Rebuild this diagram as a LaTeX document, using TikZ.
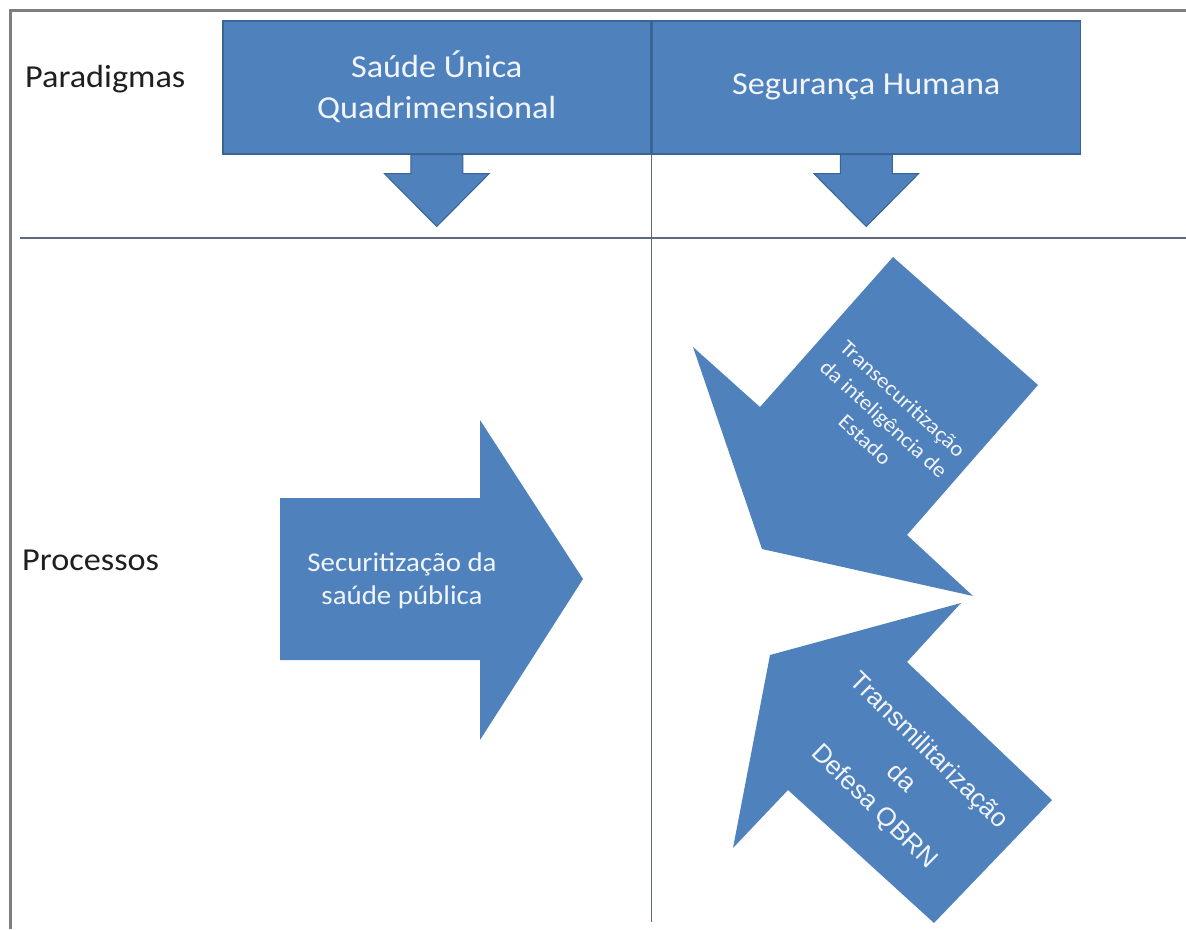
\documentclass[tikz,border=0pt]{standalone}
\usepackage{fontspec}
\setmainfont{Carlito}[FakeStretch=1.07]
\newfontfamily\arialfont{Liberation Sans}
\usetikzlibrary{
    positioning
}
\definecolor{boxblue}{HTML}{4F81BD}
\definecolor{boxedge}{HTML}{3A6494}
\definecolor{rulegray}{HTML}{5F6B7C}
\definecolor{framegray}{HTML}{7E7E7E}
\def\boxw{428pt}
\def\boxh{133pt}
\tikzset{
    base/.style={
        inner sep=0pt,
        align=center,
    },
    topbox/.style = {
        base,
        draw=boxedge,
        fill=boxblue,
        line width=1.5pt,
        minimum width  = \boxw,
        minimum height = \boxh,
        text=white!92!boxblue,
        font=\fontsize{32}{41}\selectfont,
    },
    rowlabel/.style = {
        base,
        anchor=base west,
        text=black!88,
        font=\fontsize{32}{38}\selectfont,
    },
    arrowtext/.style = {
        base,
        text=white!92!boxblue,
    },
    blockarrow/.style = {
        fill=boxblue,
    },
    downarrow/.style = {
        fill=boxblue,
        draw=boxedge,
        line width=1pt,
    },
    divider/.style = {
        draw=rulegray,
        line width=1.6pt,
    },
    frame/.style = {
        draw=framegray,
        line width=3pt,
    },
}

\begin{document}
\begin{tikzpicture}[x=1pt, y=-1pt]
        \useasboundingbox (0,0) rectangle (1186,929);
        \draw [frame] (10,929) -- (10,10) -- (1186,10);

        \node (box1) [topbox, anchor=north west] at (222,20) {Saúde Única\\Quadrimensional};
        \node (box2) [topbox, right=0pt of box1] {Segurança Humana};

        \draw [divider] (20,238) -- (1186,238);
        \draw [divider] (box1.south east) -- (box1.south east |- 0,922);

        \foreach \b in {box1,box2}{
            \filldraw [downarrow] (\b.south) ++(-26,0) -- ++(0,19) -- ++(-26.5,0)
                -- ++(52.5,53) -- ++(52.5,-53) -- ++(-26.5,0) -- ++(0,-19) -- cycle;
        }

        \node (paradigmas) [rowlabel] at (25,87) {Paradigmas};
        \node (processos) [rowlabel] at (22,570) {Processos};

        \fill [blockarrow] (280,498) -- (480,498) -- (480,420) -- (583,579)
            -- (480,740) -- (480,660) -- (280,660) -- cycle;
        \node (saude) [arrowtext, font=\fontsize{27}{33}\selectfont] at (402,581)
            {Securitização da\\saúde pública};

        \fill [blockarrow] (893,257) -- (1038,385) -- (907,535) -- (973,596)
            -- (762,549) -- (693,347) -- (760,407) -- cycle;
        \node (intel) [arrowtext, rotate=-42.5, font=\fontsize{21.5}{28}\selectfont] at (884,419)
            {Transecuritização\\da inteligência de\\Estado};

        \fill [blockarrow] (770,655) -- (961,603) -- (907,662) -- (1052,800)
            -- (934,923) -- (788,790) -- (733,848) -- cycle;
        \node (qbrn) [arrowtext, rotate=-44.5, font=\arialfont\fontsize{26}{39}\selectfont] at (901,779)
            {Transmilitarização\\da\\Defesa QBRN};

    \end{tikzpicture}
\end{document}
